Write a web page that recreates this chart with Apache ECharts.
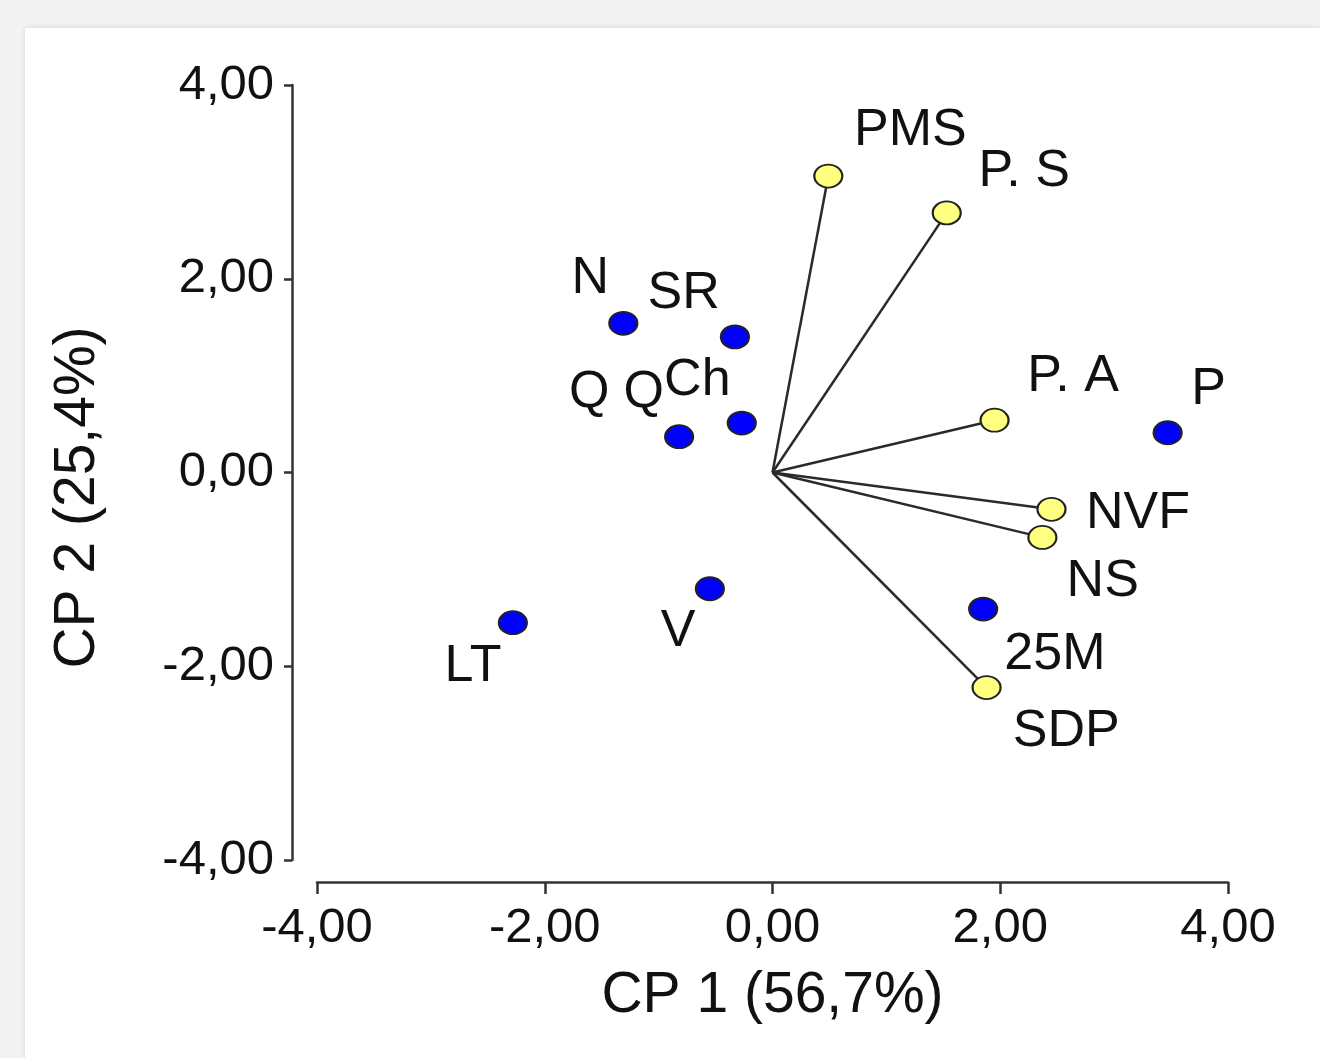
<!DOCTYPE html>
<html>
<head>
<meta charset="utf-8">
<script src="https://cdn.jsdelivr.net/npm/echarts@6/dist/echarts.min.js"></script>
<style>
  html, body { margin: 0; padding: 0; background: #f3f3f3; }
  #chart {
    position: absolute;
    left: 25px;
    top: 28px;
    width: 1295px;
    height: 1030px;
    background: #fff;
    box-shadow: 0 0 6px rgba(0, 0, 0, 0.12);
  }
</style>
</head>
<body>
<div id="chart"></div>
<script>
// variables (yellow, drawn as vectors from the origin)
var varNames = ["PMS", "P. S", "P. A", "NVF", "NS", "SDP"];
var varCP1 = [0.49, 1.53, 1.95, 2.45, 2.37, 1.88];
var varCP2 = [3.06, 2.68, 0.54, -0.38, -0.67, -2.22];

// observations (blue dots)
var obsCP1 = [-1.31, -0.33, -0.82, -0.27, 3.47, 1.85, -2.28, -0.55];
var obsCP2 = [1.54, 1.40, 0.37, 0.51, 0.41, -1.41, -1.55, -1.20];

// text labels as placed in the picture
var labelText = ["PMS", "P. S", "P. A", "P", "NVF", "NS", "25M", "SDP",
  "N", "SR", "Q", "Q", "Ch", "LT", "V"];
var labelCP1 = [1.21, 2.21, 2.64, 3.83, 3.21, 2.90, 2.48, 2.58,
  -1.60, -0.78, -1.61, -1.13, -0.66, -2.63, -0.83];
var labelCP2 = [3.53, 3.11, 0.99, 0.86, -0.42, -1.13, -1.88, -2.67,
  2.00, 1.85, 0.82, 0.82, 0.95, -2.00, -1.64];

var axisTicks = [-4, -2, 0, 2, 4];

function fmt(v) {
  return v.toFixed(2).replace(".", ",");
}

var chart = echarts.init(document.getElementById("chart"));

var vectors = varNames.map(function (n, i) {
  return { coords: [[0, 0], [varCP1[i], varCP2[i]]] };
});
var varPoints = varNames.map(function (n, i) {
  return [varCP1[i], varCP2[i]];
});
var obsPoints = obsCP1.map(function (x, i) {
  return [x, obsCP2[i]];
});
var labels = labelText.map(function (t, i) {
  return { name: t, value: [labelCP1[i], labelCP2[i]] };
});

var tickFont = {
  fontFamily: "Liberation Sans, Arial, sans-serif",
  fontSize: 49,
  color: "#111"
};

chart.setOption({
  animation: false,
  grid: {
    left: 292,
    right: 92,
    top: 57,
    bottom: 198
  },
  xAxis: {
    type: "value",
    min: axisTicks[0],
    max: axisTicks[axisTicks.length - 1],
    interval: 2,
    offset: 22,
    name: "CP 1 (56,7%)",
    nameLocation: "middle",
    nameGap: 86,
    nameTextStyle: {
      fontFamily: "Liberation Sans, Arial, sans-serif",
      fontSize: 57,
      color: "#111"
    },
    axisLine: { onZero: false, lineStyle: { color: "#333", width: 2.5 } },
    axisTick: { length: 12, lineStyle: { color: "#333", width: 2.5 } },
    axisLabel: Object.assign({ margin: 22, formatter: fmt }, tickFont),
    splitLine: { show: false }
  },
  yAxis: {
    type: "value",
    min: axisTicks[0],
    max: axisTicks[axisTicks.length - 1],
    interval: 2,
    offset: 25,
    name: "CP 2 (25,4%)",
    nameLocation: "middle",
    nameGap: 185,
    nameTextStyle: {
      fontFamily: "Liberation Sans, Arial, sans-serif",
      fontSize: 57,
      color: "#111",
      padding: [0, 50, 0, 0]
    },
    axisLine: { onZero: false, lineStyle: { color: "#333", width: 2.5 } },
    axisTick: { length: 8, lineStyle: { color: "#333", width: 2.5 } },
    axisLabel: Object.assign({ margin: 18, formatter: fmt }, tickFont),
    splitLine: { show: false }
  },
  series: [
    {
      type: "lines",
      coordinateSystem: "cartesian2d",
      z: 1,
      lineStyle: { color: "#2a2a2a", width: 2.5, opacity: 1 },
      data: vectors
    },
    {
      type: "scatter",
      z: 3,
      symbol: "circle",
      symbolSize: [28, 23],
      itemStyle: { color: "#ffff80", borderColor: "#222", borderWidth: 2, opacity: 1 },
      data: varPoints
    },
    {
      type: "scatter",
      z: 3,
      symbol: "circle",
      symbolSize: [28, 23],
      itemStyle: { color: "#0000ff", borderColor: "#222", borderWidth: 2, opacity: 1 },
      data: obsPoints
    },
    {
      type: "scatter",
      z: 4,
      symbolSize: 1,
      itemStyle: { color: "transparent", opacity: 1 },
      label: {
        show: true,
        position: "inside",
        formatter: "{b}",
        fontFamily: "Liberation Sans, Arial, sans-serif",
        fontSize: 52,
        color: "#111"
      },
      data: labels
    }
  ]
});
</script>
</body>
</html>
